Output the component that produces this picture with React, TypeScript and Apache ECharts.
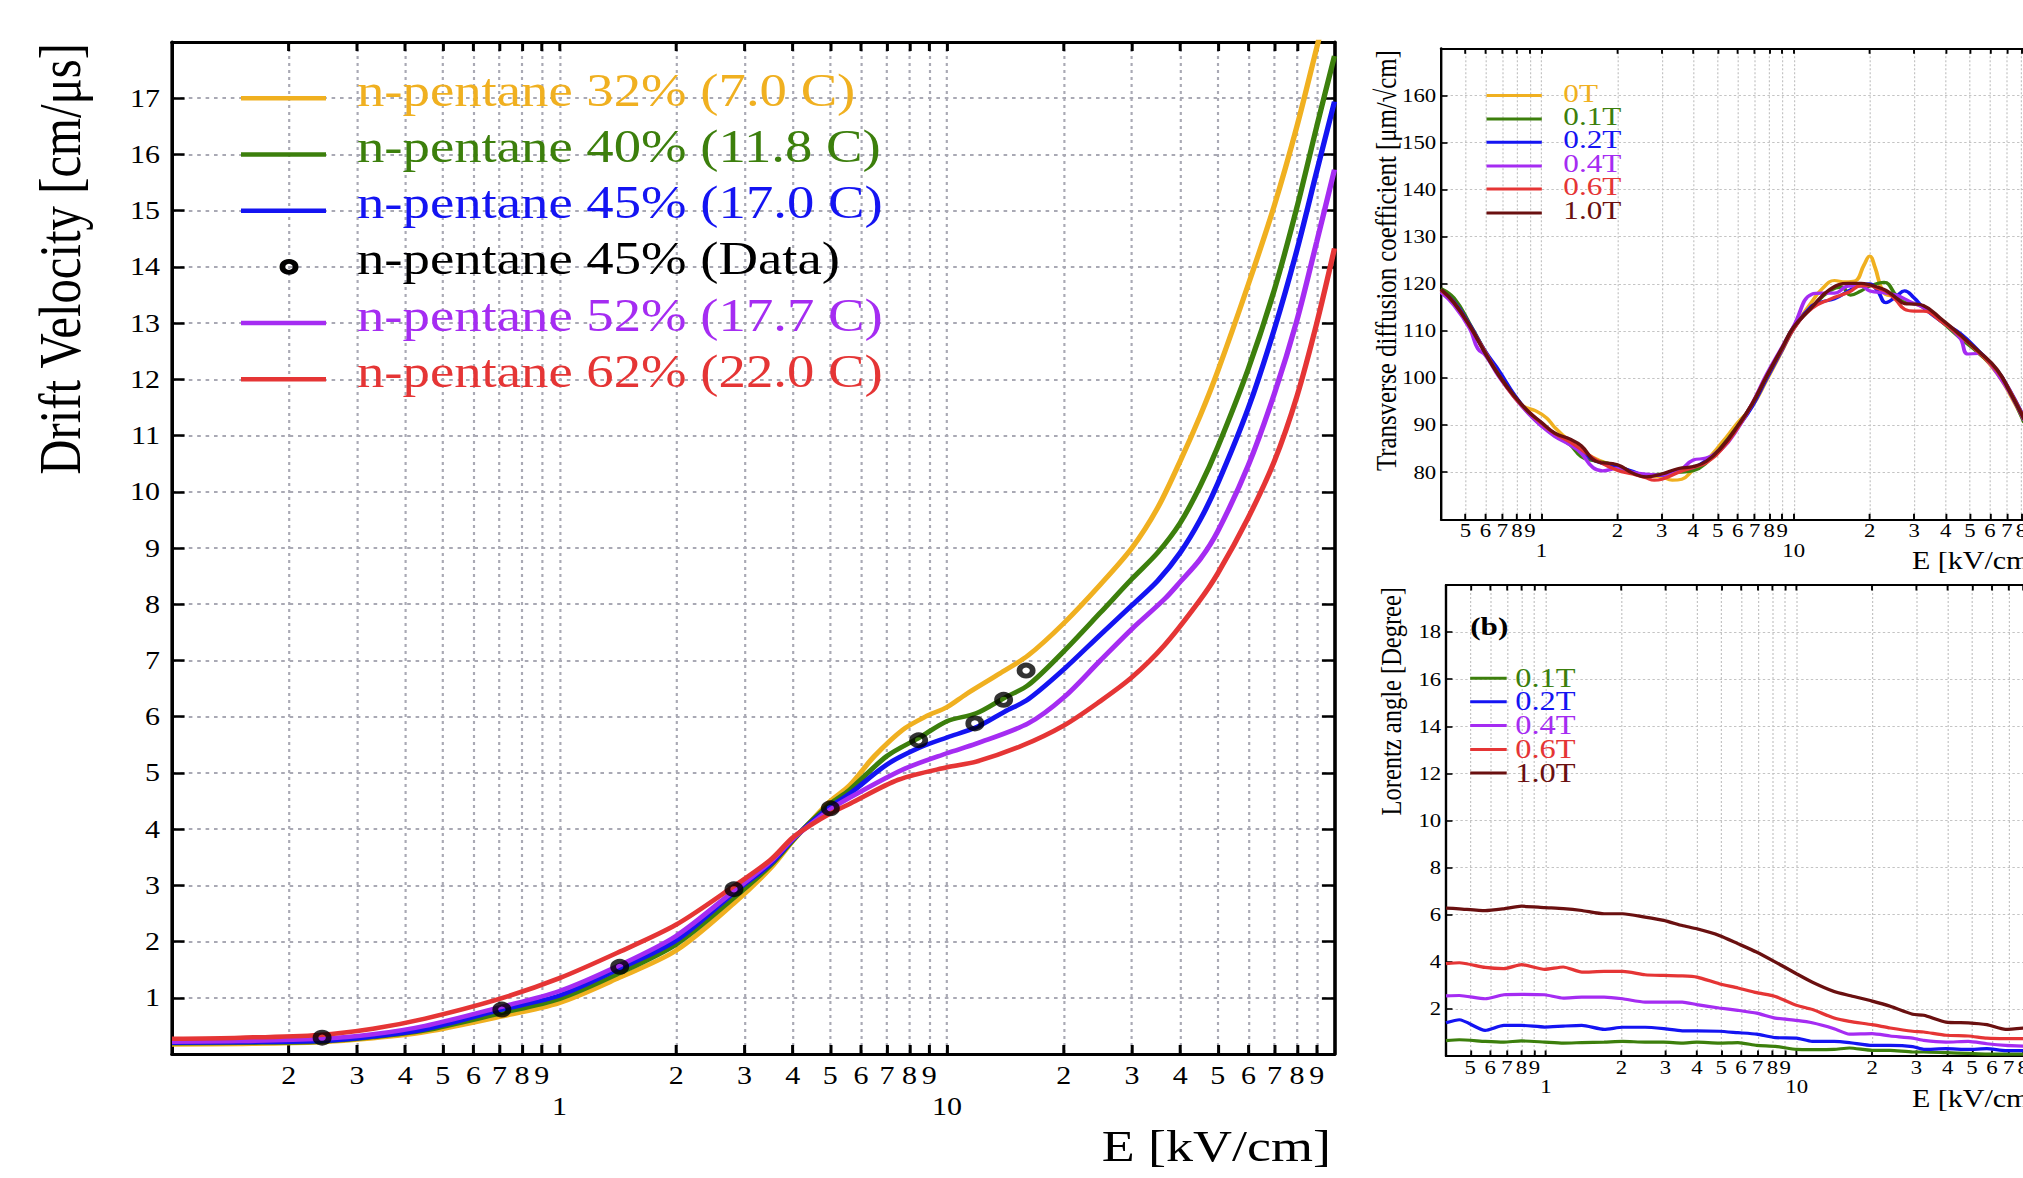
import React, { useEffect, useRef } from "react";
import * as echarts from "echarts";

const FONT = '"Liberation Serif", "Times New Roman", Times, serif';
// the reference figure is stretched horizontally; everything is laid out unstretched then scaled
const S = 1.2;
const CW = 1720;
const CH = 1178;

// ---------------- colours ----------------
const C_YEL = "#F0B020";
const C_GRN = "#3C7F0C";
const C_BLU = "#1414F2";
const C_PUR = "#A52CF2";
const C_RED = "#E53535";
const C_DRK = "#6A1010";

// ---------------- tick values ----------------
const mainTickValues = [0.2, 0.3, 0.4, 0.5, 0.6, 0.7, 0.8, 0.9, 1, 2, 3, 4, 5, 6, 7, 8, 9, 10, 20, 30, 40, 50, 60, 70, 80, 90];
const mainMinorLabels = [0.2, 0.3, 0.4, 0.5, 0.6, 0.7, 0.8, 0.9, 2, 3, 4, 5, 6, 7, 8, 9, 20, 30, 40, 50, 60, 70, 80, 90];
const rightTickValues = [0.5, 0.6, 0.7, 0.8, 0.9, 1, 2, 3, 4, 5, 6, 7, 8, 9, 10, 20, 30, 40, 50, 60, 70, 80, 90];
const rightMinorLabels = [0.5, 0.6, 0.7, 0.8, 0.9, 2, 3, 4, 5, 6, 7, 8, 9, 20, 30, 40, 50, 60, 70, 80];
const decadeLabels = [1, 10];

// ---------------- main chart: drift velocity [E kV/cm, v cm/us] ----------------
const mainNames = [
  "n-pentane 32% (7.0 C)",
  "n-pentane 40% (11.8 C)",
  "n-pentane 45% (17.0 C)",
  "n-pentane 45% (Data)",
  "n-pentane 52% (17.7 C)",
  "n-pentane 62% (22.0 C)",
];
const mainLegendRowsAt = [17, 16, 15, 14, 13, 12]; // legend rows sit on these velocity grid lines
const vd32 = [[0.1,0.17],[0.15,0.18],[0.24,0.21],[0.33,0.28],[0.45,0.39],[0.7,0.66],[1.0,0.91],[1.42,1.35],[2.0,1.84],[2.84,2.70],[3.5,3.30],[4.0,3.79],[4.4,4.10],[5.0,4.50],[5.61,4.78],[6.5,5.30],[7.7,5.77],[8.8,6.0],[10,6.17],[11.2,6.40],[13.7,6.77],[16.2,7.09],[20,7.66],[24.8,8.34],[30,9.0],[35,9.72],[40,10.55],[45,11.35],[50,12.15],[60,13.7],[70,15.1],[80,16.5],[90,17.9],[91.5,18.1]];
const vd40 = [[0.1,0.19],[0.15,0.20],[0.24,0.22],[0.33,0.30],[0.45,0.42],[0.7,0.72],[1.0,0.98],[1.42,1.43],[2.0,1.95],[2.84,2.80],[3.5,3.35],[4.0,3.80],[4.4,4.10],[5.0,4.45],[5.61,4.70],[7.0,5.30],[8.5,5.63],[10,5.92],[11.9,6.06],[14.1,6.34],[16.2,6.56],[20,7.16],[24.8,7.84],[30,8.45],[35,8.92],[40,9.45],[45,10.1],[50,10.8],[60,12.2],[70,13.6],[80,15.06],[90,16.5],[100,17.75]];
const vd45 = [[0.1,0.20],[0.15,0.21],[0.24,0.23],[0.33,0.31],[0.45,0.44],[0.7,0.78],[1.0,1.04],[1.42,1.51],[2.0,2.02],[2.84,2.89],[3.5,3.38],[4.0,3.82],[4.4,4.08],[5.0,4.40],[5.61,4.63],[7.0,5.15],[8.5,5.45],[10,5.63],[11.9,5.81],[14.1,6.09],[16.2,6.31],[20,6.84],[24.8,7.45],[30,7.98],[35,8.42],[40,8.92],[45,9.5],[50,10.15],[60,11.5],[70,12.9],[80,14.3],[90,15.7],[100,16.94]];
const vd52 = [[0.1,0.22],[0.15,0.23],[0.24,0.27],[0.33,0.35],[0.45,0.50],[0.7,0.83],[1.0,1.12],[1.42,1.57],[2.0,2.10],[2.84,2.92],[3.5,3.42],[4.0,3.83],[4.4,4.06],[5.0,4.35],[5.61,4.56],[7.7,5.06],[10,5.35],[11.9,5.52],[16.2,5.88],[20,6.34],[24.8,6.99],[30,7.56],[36.4,8.09],[40,8.4],[45,8.8],[50,9.3],[60,10.48],[70,11.75],[80,13.05],[90,14.45],[100,15.73]];
const vd62 = [[0.1,0.27],[0.15,0.29],[0.24,0.34],[0.33,0.45],[0.45,0.63],[0.7,0.98],[1.0,1.35],[1.42,1.81],[2.0,2.30],[2.84,3.0],[3.5,3.45],[4.0,3.85],[4.4,4.05],[5.0,4.28],[5.61,4.45],[7.5,4.88],[10,5.10],[11.9,5.20],[15.7,5.49],[20,5.84],[24.8,6.27],[30,6.70],[36.4,7.27],[44.7,8.05],[50,8.55],[60,9.55],[70,10.55],[80,11.7],[90,13.0],[100,14.33]];
const vdData = [[0.244,0.29],[0.71,0.79],[1.43,1.55],[2.82,2.93],[5.0,4.37],[8.45,5.58],[11.8,5.88],[14.0,6.30],[16.0,6.82]];

// ---------------- top right: transverse diffusion [E, um/sqrt(cm)] ----------------
const diffNames = ["0T", "0.1T", "0.2T", "0.4T", "0.6T", "1.0T"];
const dt0T = [[0.4,118.5],[0.45,116.0],[0.52,111.0],[0.6,105.5],[0.68,100.6],[0.78,96.0],[0.85,94.0],[0.95,93.0],[1.05,91.5],[1.13,89.5],[1.3,86.5],[1.5,84.0],[1.7,82.5],[2.0,81.2],[2.3,80.0],[2.6,79.3],[3.0,79.0],[3.3,78.3],[3.6,78.5],[4.0,80.5],[4.5,82.5],[5.2,86.3],[6.0,90.5],[6.85,94.0],[7.8,99.5],[9.0,105.8],[10,110.5],[11.8,116.2],[13.0,119.0],[14.5,120.7],[16.0,120.4],[17.5,120.6],[19.0,124.0],[20,125.9],[21,123.5],[22.5,118.5],[24,117.5],[25.5,117.6],[27.5,116.5],[30,115.8],[32.6,115.0],[38.5,112.3],[45.6,109.0],[54,105.5],[64,101.0],[72,96.5],[82,90.8]];
const dt01T = [[0.4,119.0],[0.45,117.0],[0.52,111.5],[0.6,105.5],[0.68,100.8],[0.78,96.3],[0.89,92.5],[1.0,90.0],[1.13,87.8],[1.3,85.8],[1.44,83.3],[1.6,82.5],[1.8,82.0],[2.0,81.4],[2.3,80.0],[2.6,79.4],[3.0,79.6],[3.5,80.0],[4.0,80.3],[4.5,82.0],[5.2,85.5],[6.0,89.8],[6.85,94.5],[7.8,100.3],[9.0,106.3],[10,110.8],[11.8,115.0],[13.9,118.5],[15.5,119.3],[16.8,117.6],[18.5,118.5],[20,119.5],[22.8,120.3],[25.5,117.5],[27.5,116.0],[30,115.8],[32.6,115.2],[38.5,112.0],[45.6,108.5],[54,105.3],[64,101.5],[72,97.0],[82,90.5]];
const dt02T = [[0.4,118.5],[0.45,116.2],[0.52,111.3],[0.6,105.6],[0.68,101.5],[0.78,96.5],[0.89,92.6],[1.0,90.2],[1.13,88.0],[1.3,86.2],[1.44,84.5],[1.65,82.3],[2.0,81.2],[2.3,80.2],[2.6,79.3],[3.0,79.3],[3.5,80.5],[4.0,81.0],[4.5,82.5],[5.2,85.3],[6.0,89.5],[6.85,94.0],[7.8,99.8],[9.0,106.0],[10,110.5],[11.8,115.3],[13.0,116.2],[14.5,116.8],[16.5,118.5],[18.5,119.8],[20,120.0],[21.5,118.5],[23.2,116.0],[25.5,117.3],[27.5,118.5],[30,117.0],[32.6,115.0],[38.5,112.0],[45.6,109.5],[54,105.8],[64,101.6],[72,97.3],[82,91.5]];
const dt04T = [[0.4,118.2],[0.45,115.5],[0.52,110.5],[0.56,106.2],[0.6,104.8],[0.68,100.2],[0.78,96.0],[0.89,92.4],[1.0,89.8],[1.13,87.6],[1.3,85.8],[1.44,84.0],[1.6,81.0],[1.75,80.3],[2.0,80.8],[2.3,80.0],[2.6,79.6],[3.0,79.4],[3.5,80.2],[4.0,82.6],[4.5,83.0],[5.2,85.0],[6.0,89.3],[6.85,94.6],[7.8,100.7],[9.0,106.6],[10,111.0],[11.8,117.8],[13.0,118.0],[14.5,118.0],[16.5,119.5],[18.5,119.5],[20,118.5],[23.2,118.0],[25.5,117.6],[27.5,116.8],[30,115.8],[32.6,115.0],[38.5,112.2],[45.6,108.5],[49,105.1],[54,105.2],[58,104.0],[64,101.0],[72,96.8],[82,91.0]];
const dt06T = [[0.4,118.6],[0.45,116.0],[0.52,111.0],[0.6,105.4],[0.68,100.5],[0.78,96.0],[0.89,92.8],[1.0,90.4],[1.13,88.2],[1.3,86.4],[1.44,84.8],[1.65,82.6],[2.0,80.4],[2.3,79.6],[2.6,78.8],[2.8,78.3],[3.0,78.5],[3.5,80.0],[4.0,81.0],[4.5,82.0],[5.2,85.0],[6.0,89.5],[6.85,94.5],[7.8,100.3],[9.0,106.2],[10,110.5],[11.8,114.8],[13.9,116.7],[16.5,118.2],[18.5,119.6],[20,119.6],[21.5,119.0],[23.2,118.4],[25.5,116.5],[27.5,114.6],[30,114.2],[32.6,114.2],[38.5,112.0],[45.6,109.0],[54,105.5],[64,101.5],[72,97.2],[82,91.3]];
const dt10T = [[0.4,118.8],[0.45,116.0],[0.52,111.1],[0.6,105.2],[0.68,100.5],[0.78,96.2],[0.89,92.8],[1.0,90.6],[1.13,88.3],[1.3,87.0],[1.44,85.6],[1.65,82.3],[2.0,81.6],[2.3,79.8],[2.6,79.0],[3.0,79.6],[3.5,80.8],[4.0,81.2],[4.5,82.3],[5.2,85.4],[6.0,89.8],[6.85,94.5],[7.8,100.3],[9.0,106.4],[10,110.8],[11.8,115.0],[13.9,118.8],[16.5,120.1],[18.5,120.1],[20,119.8],[21.5,119.3],[23.2,118.6],[25.5,117.0],[27.5,115.8],[30,115.7],[32.6,115.4],[38.5,112.5],[45.6,109.2],[54,105.7],[64,101.8],[72,97.0],[82,91.2]];

// ---------------- bottom right: Lorentz angle [E, degree] ----------------
const lorNames = ["0.1T", "0.2T", "0.4T", "0.6T", "1.0T"];
const lorE = [0.4,0.452,0.573,0.68,0.801,0.99,1.174,1.392,1.708,2.025,2.486,2.95,3.5,4.0,4.91,5.83,6.93,8.22,10,11.53,14.1,16.23,20,23.6,29,32.1,39.4,48.3,57.3,68,81];
const la01T = [0.65,0.69,0.62,0.59,0.64,0.59,0.55,0.57,0.59,0.62,0.59,0.59,0.55,0.59,0.55,0.57,0.45,0.41,0.28,0.27,0.28,0.34,0.24,0.24,0.17,0.17,0.14,0.11,0.08,0.08,0.08];
const la02T = [1.41,1.54,1.09,1.30,1.30,1.23,1.27,1.30,1.13,1.22,1.22,1.16,1.07,1.07,1.05,0.99,0.93,0.78,0.76,0.62,0.62,0.57,0.45,0.45,0.40,0.28,0.31,0.28,0.31,0.23,0.23];
const la04T = [2.55,2.57,2.43,2.60,2.62,2.60,2.46,2.50,2.50,2.43,2.29,2.29,2.29,2.18,2.04,1.94,1.82,1.61,1.51,1.41,1.16,0.93,0.95,0.85,0.76,0.66,0.59,0.62,0.52,0.45,0.42];
const la06T = [3.92,3.96,3.76,3.71,3.88,3.68,3.78,3.56,3.59,3.59,3.45,3.42,3.40,3.35,3.07,2.89,2.69,2.53,2.15,1.98,1.61,1.47,1.33,1.19,1.05,1.02,0.88,0.85,0.76,0.74,0.74];
const la10T = [6.28,6.25,6.17,6.25,6.36,6.30,6.26,6.18,6.04,6.04,5.90,5.76,5.54,5.40,5.12,4.77,4.41,3.99,3.49,3.14,2.74,2.57,2.33,2.11,1.77,1.73,1.44,1.41,1.33,1.13,1.19];

// ---------------- helpers ----------------
const px = (fullX: number) => fullX / S; // full-picture x -> unstretched x

const mantissa = (v: number) =>
  String(Math.round(v / Math.pow(10, Math.floor(Math.log10(v) + 1e-9))));

type St = {
  axisW: number; tickW: number; tickLen: number; yTickLen: number;
  fs: number; m1: number; m2: number; ym: number;
  gridC: string; gridW: number; dash: number[];
};

function xAxes(g: number, min: number, max: number, ticks: number[], minor: number[], st: St) {
  const common = { type: "log", logBase: 10, gridIndex: g, min, max };
  const lbl = { fontFamily: FONT, fontSize: st.fs, color: "#000" };
  return [
    {
      ...common, position: "bottom",
      axisLine: { show: true, onZero: false, lineStyle: { color: "#000", width: st.axisW } },
      axisTick: { show: true, inside: true, length: st.tickLen, customValues: ticks, lineStyle: { color: "#000", width: st.tickW } },
      axisLabel: { show: true, customValues: minor, formatter: mantissa, margin: st.m1, ...lbl },
      splitLine: { show: true, lineStyle: { color: st.gridC, width: st.gridW, type: st.dash } },
      minorTick: { show: false }, minorSplitLine: { show: false },
    },
    {
      ...common, position: "bottom",
      axisLine: { show: false }, axisTick: { show: false }, splitLine: { show: false },
      axisLabel: { show: true, customValues: decadeLabels, formatter: (v: number) => String(v), margin: st.m2, ...lbl },
    },
    {
      ...common, position: "top",
      axisLine: { show: true, onZero: false, lineStyle: { color: "#000", width: st.axisW } },
      axisTick: { show: true, inside: true, length: st.tickLen, customValues: ticks, lineStyle: { color: "#000", width: st.tickW } },
      axisLabel: { show: false }, splitLine: { show: false },
    },
  ];
}

function yAxes(g: number, min: number, max: number, interval: number, st: St) {
  return [
    {
      type: "value", gridIndex: g, min, max, interval, position: "left",
      axisLine: { show: true, onZero: false, lineStyle: { color: "#000", width: st.axisW } },
      axisTick: { show: true, inside: true, length: st.yTickLen, lineStyle: { color: "#000", width: st.tickW } },
      axisLabel: { show: true, showMinLabel: false, showMaxLabel: false, margin: st.ym, fontFamily: FONT, fontSize: st.fs, color: "#000" },
      splitLine: { show: true, lineStyle: { color: st.gridC, width: st.gridW, type: st.dash } },
    },
    {
      type: "value", gridIndex: g, min, max, interval, position: "right",
      axisLine: { show: true, onZero: false, lineStyle: { color: "#000", width: st.axisW } },
      axisTick: { show: true, inside: true, length: st.yTickLen, lineStyle: { color: "#000", width: st.tickW } },
      axisLabel: { show: false }, splitLine: { show: false },
    },
  ];
}

const mainSt: St = { axisW: 3, tickW: 2.5, tickLen: 9, yTickLen: 10.5, fs: 25, m1: 8.5, m2: 40, ym: 10, gridC: "#a9a9b4", gridW: 1.8, dash: [3, 4] };
const rightSt: St = { axisW: 2, tickW: 1.6, tickLen: 5.5, yTickLen: 5.4, fs: 19, m1: 2, m2: 21.5, ym: 4, gridC: "#c4c4c4", gridW: 1, dash: [2, 2] };

function lineSeries(name: string, data: number[][], color: string, xi: number, yi: number, width: number, smooth: number) {
  return {
    type: "line", name, data, xAxisIndex: xi, yAxisIndex: yi, color,
    symbol: "none", showSymbol: false, smooth, clip: true, silent: true,
    lineStyle: { color, width },
  };
}

// legend drawn as graphic rows: sample line (or ring) + coloured text
function legendRows(
  names: string[], colors: string[], rowsY: number[], x0: number, x1: number, tx: number,
  barH: number, fs: number, textDy: number, ringIdx = -1, ringX = 0
) {
  const out: any[] = [];
  names.forEach((n, i) => {
    const cy = rowsY[i];
    if (i === ringIdx) {
      out.push({
        type: "circle", z: 20, silent: true,
        shape: { cx: ringX, cy, r: 5.5 },
        style: { fill: "none", stroke: "#000", lineWidth: 4.8 },
      });
    } else {
      out.push({
        type: "rect", z: 20, silent: true,
        shape: { x: x0, y: cy - barH / 2, width: x1 - x0, height: barH },
        style: { fill: colors[i] },
      });
    }
    out.push({
      type: "text", z: 20, silent: true, x: tx, y: cy + textDy,
      style: { text: n, fontFamily: FONT, fontSize: fs, fill: colors[i], align: "left", verticalAlign: "middle" },
    });
  });
  return out;
}

function buildOption() {
  const G0 = { left: px(172), top: 42, width: px(1334.5) - px(172), height: 1012 };
  const grids = [
    G0,
    { left: px(1441), top: 48.3, width: px(2046) - px(1441), height: 471 },
    { left: px(1446), top: 585, width: px(2047.5) - px(1446), height: 471 },
  ].map((g) => ({ ...g, outerBoundsMode: "none", containLabel: false }));

  const xAxis = [
    ...xAxes(0, 0.1, 100, mainTickValues, mainMinorLabels, mainSt),
    ...xAxes(1, 0.4, 100, rightTickValues, rightMinorLabels, rightSt),
    ...xAxes(2, 0.4, 100, rightTickValues, rightMinorLabels, rightSt),
  ];
  const yAxis = [
    ...yAxes(0, 0, 18, 1, mainSt),
    ...yAxes(1, 70, 170, 10, rightSt),
    ...yAxes(2, 0, 20, 2, rightSt),
  ];

  const mainColors = [C_YEL, C_GRN, C_BLU, "#000", C_PUR, C_RED];
  const diffColors = [C_YEL, C_GRN, C_BLU, C_PUR, C_RED, C_DRK];
  const lorColors = [C_GRN, C_BLU, C_PUR, C_RED, C_DRK];

  const MW = 4.5;
  const series: any[] = [
    lineSeries(mainNames[0], vd32, C_YEL, 0, 0, MW, 0.3),
    lineSeries(mainNames[1], vd40, C_GRN, 0, 0, MW, 0.3),
    lineSeries(mainNames[2], vd45, C_BLU, 0, 0, MW, 0.3),
    lineSeries(mainNames[4], vd52, C_PUR, 0, 0, MW, 0.3),
    lineSeries(mainNames[5], vd62, C_RED, 0, 0, MW, 0.3),
    {
      type: "scatter", name: mainNames[3], data: vdData, xAxisIndex: 0, yAxisIndex: 0,
      symbol: "circle", symbolSize: 11, silent: true, z: 5,
      itemStyle: { color: "rgba(255,255,255,0)", borderColor: "#000", borderWidth: 4.8 },
    },
  ];
  const diffData = [dt0T, dt01T, dt02T, dt04T, dt06T, dt10T];
  diffNames.forEach((n, i) => series.push(lineSeries(n, diffData[i], diffColors[i], 3, 2, 3.2, 0.45)));
  const lorData = [la01T, la02T, la04T, la06T, la10T];
  lorNames.forEach((n, i) =>
    series.push(lineSeries(n, lorE.map((e, k) => [e, lorData[i][k]]), lorColors[i], 6, 4, 3.2, 0.2))
  );

  // legend row positions (pixel layout)
  const mainRowsY = mainLegendRowsAt.map((v) => G0.top + ((18 - v) / 18) * G0.height);
  const diffRowsY = [95.5, 119.1, 142.3, 165.9, 189.1, 213.1];
  const lorRowsY = [678.2, 701.8, 725.4, 749.4, 773.0];

  const T = (x: number, y: number, text: string, size: number, align: string, rot = 0, weight = "normal") => ({
    type: "text", x, y, rotation: rot, silent: true, z: 20,
    style: { text, fontFamily: FONT, fontSize: size, fontWeight: weight, fill: "#000", align, verticalAlign: "middle" },
  });
  const graphic = [
    T(px(60.5), 43, "Drift Velocity [cm/\u03bcs]", 48.8, "right", Math.PI / 2),
    T(px(1331), 1146, "E [kV/cm]", 45, "right"),
    T(px(1386.5), 50.2, "Transverse diffusion coefficient [\u03bcm/\u221acm]", 24.8, "right", Math.PI / 2),
    T(px(1912), 560.6, "E [kV/cm]", 25, "left"),
    T(px(1391.6), 587, "Lorentz angle [Degree]", 24.5, "right", Math.PI / 2),
    T(px(1912), 1098, "E [kV/cm]", 25, "left"),
    T(px(1470.2), 625.5, "(b)", 26, "left", 0, "bold"),
    ...legendRows(mainNames, mainColors, mainRowsY, px(241), px(326), px(357), 4.5, 45.6, -8, 3, px(289)),
    ...legendRows(diffNames, diffColors, diffRowsY, px(1486.5), px(1541.8), px(1563.3), 3, 26, -3),
    ...legendRows(lorNames, lorColors, lorRowsY, px(1470.2), px(1506.7), px(1515.2), 3, 27, -1),
  ];

  return {
    animation: false,
    backgroundColor: "#fff",
    textStyle: { fontFamily: FONT },
    grid: grids,
    xAxis,
    yAxis,
    series,
    graphic,
    tooltip: { show: false },
  };
}

export default function App() {
  const ref = useRef<HTMLDivElement>(null);
  useEffect(() => {
    if (!ref.current) return;
    const chart = echarts.init(ref.current, null, { renderer: "svg" });
    chart.setOption(buildOption() as any);
    return () => chart.dispose();
  }, []);
  return (
    <div style={{ position: "fixed", left: 0, top: 0, width: 2023, height: 1178, overflow: "hidden", background: "#fff" }}>
      <div ref={ref} style={{ width: CW, height: CH, transform: `scaleX(${S})`, transformOrigin: "0 0" }} />
    </div>
  );
}
